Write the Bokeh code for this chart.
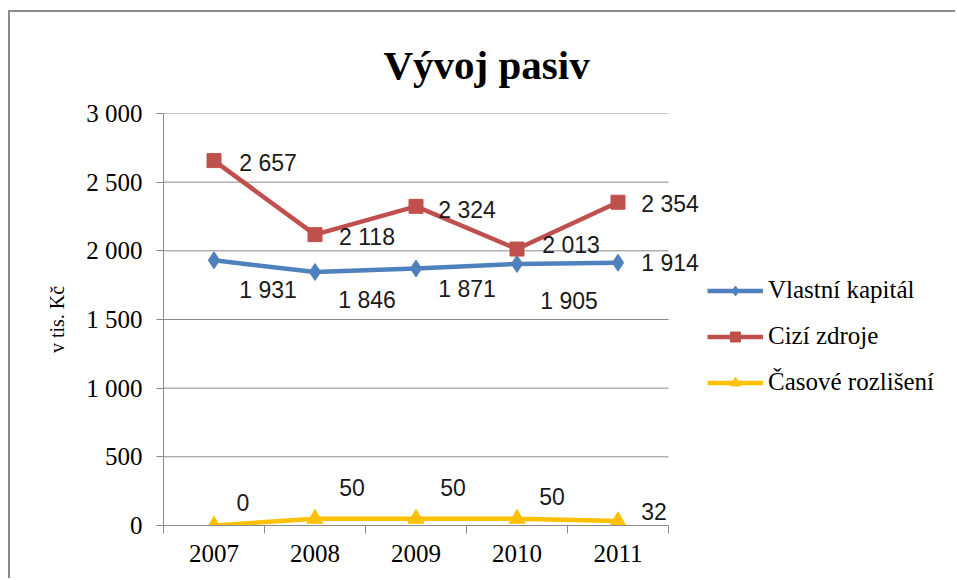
from bokeh.plotting import figure
from bokeh.models import FixedTicker, Legend, LegendItem, ColumnDataSource
from bokeh.layouts import column
from bokeh.core.properties import value
from bokeh.embed import file_html
from bokeh.resources import INLINE

# ---- data ----
years = ["2007", "2008", "2009", "2010", "2011"]
vlastni_kapital = [1931, 1846, 1871, 1905, 1914]
cizi_zdroje = [2657, 2118, 2324, 2013, 2354]
casove_rozliseni = [0, 50, 50, 50, 32]
series_names = ["Vlastní kapitál", "Cizí zdroje", "Časové rozlišení"]
y_tick_values = [0, 500, 1000, 1500, 2000, 2500, 3000]
y_tick_labels = ["0", "500", "1 000", "1 500", "2 000", "2 500", "3 000"]
title_text = "Vývoj pasiv"
y_axis_title = "v tis. Kč"

# ---- label placement (pixel offsets from each point) ----
vk_dx = [54, 52, 51, 52, 52]
vk_dy = [30, 28, 20, 37, 0]
cz_dx = [54, 52, 51, 54, 52]
cz_dy = [2, 2, 4, -4, 2]
cr_dx = [29, 37, 37, 35, 36]
cr_dy = [-23, -31, -31, -22, -10]

colors = ["#4f81bd", "#c0504d", "#ffc000"]
markers = ["diamond", "square", "triangle"]
msizes = [17, 14, 16]

SERIF = "Liberation Serif"
SANS = "Liberation Sans"
GRAY = "#8a8a8a"

W, H = 945, 566
LEFT, TOP, BOTTOM = 153, 101, 53
PX_PER_CAT = 101
n = len(years)
x_start = -0.5
x_end_axis = n - 0.5
frame_w = W - LEFT
x_end = x_start + frame_w / PX_PER_CAT

p = figure(width=W, height=H, output_backend="svg", toolbar_location=None,
           x_range=(x_start, x_end), y_range=(0, 3000),
           min_border_left=LEFT, min_border_right=0, min_border_top=TOP,
           min_border_bottom=BOTTOM)
p.outline_line_color = None
p.background_fill_color = "white"
p.border_fill_color = "white"

xs = list(range(n))

def fmt(v):
    return f"{v:,}".replace(",", " ")

# gridlines (limited to the plot area)
grid_src = ColumnDataSource(dict(x0=[x_start] * len(y_tick_values), x1=[x_end_axis] * len(y_tick_values),
                                 y=y_tick_values))
p.segment("x0", "y", "x1", "y", source=grid_src, line_color=GRAY, line_width=1)

items = []
all_series = [vlastni_kapital, cizi_zdroje, casove_rozliseni]
offsets = [(vk_dx, vk_dy), (cz_dx, cz_dy), (cr_dx, cr_dy)]
for name, vals, col, mk, ms, (dx, dy) in zip(series_names, all_series, colors,
                                              markers, msizes, offsets):
    src = ColumnDataSource(dict(x=xs, y=vals, lab=[fmt(v) for v in vals], dx=dx, dy=dy))
    lr = p.line("x", "y", source=src, line_color=col, line_width=4.5)
    sr = p.scatter("x", "y", source=src, marker=mk, size=ms, fill_color=col,
                   line_color=col)
    p.text("x", "y", text="lab", source=src, x_offset="dx", y_offset="dy",
           text_align="center", text_baseline="middle",
           text_font=value(SANS), text_font_size="23px", text_color="#1a1a1a")
    items.append(LegendItem(label=name, renderers=[lr, sr]))

legend = Legend(items=items, location=(544, 129), padding=0, margin=0,
                border_line_color=None, background_fill_alpha=0,
                glyph_width=56, glyph_height=25, label_height=25, spacing=18,
                label_standoff=5, label_text_font=SERIF,
                label_text_font_size="25px", label_text_color="black")
p.add_layout(legend, "center")

# axes
p.xaxis.bounds = (x_start, x_end_axis)
p.xaxis.ticker = FixedTicker(ticks=xs, minor_ticks=[i - 0.5 for i in range(n + 1)])
p.xaxis.major_label_overrides = {i: y for i, y in enumerate(years)}
p.xaxis.major_tick_out = 0
p.xaxis.major_tick_in = 0
p.xaxis.minor_tick_out = 8
p.xaxis.minor_tick_in = 0
p.xaxis.minor_tick_line_color = GRAY
p.xaxis.axis_line_color = GRAY
p.xaxis.major_label_standoff = 11
p.xaxis.major_label_text_font = SERIF
p.xaxis.major_label_text_font_size = "25px"
p.xaxis.major_label_text_color = "black"

p.yaxis.ticker = FixedTicker(ticks=y_tick_values, minor_ticks=[])
p.yaxis.major_label_overrides = {v: l for v, l in zip(y_tick_values, y_tick_labels)}
p.yaxis.major_tick_out = 7
p.yaxis.major_tick_in = 0
p.yaxis.major_tick_line_color = GRAY
p.yaxis.axis_line_color = GRAY
p.yaxis.minor_tick_line_color = None
p.yaxis.major_label_standoff = 14
p.yaxis.major_label_text_font = SERIF
p.yaxis.major_label_text_font_size = "25px"
p.yaxis.major_label_text_color = "black"
p.yaxis.axis_label = y_axis_title
p.yaxis.axis_label_text_font = SERIF
p.yaxis.axis_label_text_font_size = "20px"
p.yaxis.axis_label_text_font_style = "normal"
p.yaxis.axis_label_text_color = "black"
p.yaxis.axis_label_standoff = 15

p.xgrid.grid_line_color = None
p.ygrid.grid_line_color = None

# title
p.title.text = title_text
p.title.text_font = SERIF
p.title.text_font_size = "41px"
p.title.text_font_style = "bold"
p.title.text_color = "black"
p.title.align = "left"
p.title.offset = 220
p.title.standoff = 52

layout = column(p, margin=(10, 0, 0, 8),
                styles={"border-left": f"2px solid {GRAY}", "border-top": f"2px solid {GRAY}"})

open("out.html", "w").write(file_html(layout, INLINE))
